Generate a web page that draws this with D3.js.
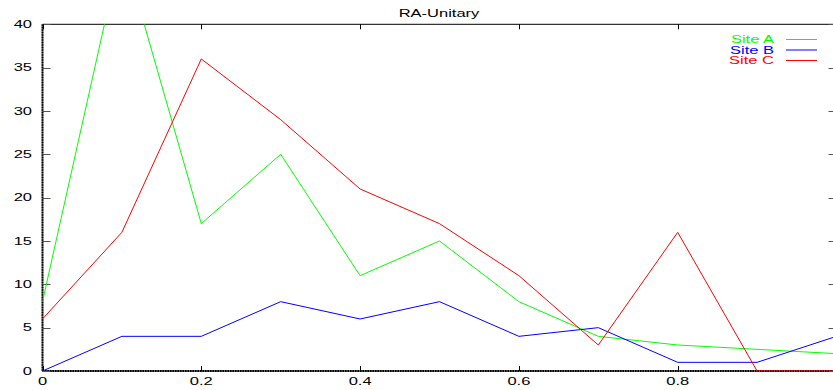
<!DOCTYPE html>
<html>
<head>
<meta charset="utf-8">
<script src="https://cdn.jsdelivr.net/npm/d3@7"></script>
<style>
  html, body { margin: 0; padding: 0; background: #fff; }
  svg { display: block; }
  text { font-family: "Liberation Sans", Arial, Helvetica, sans-serif; font-size: 10px; }
</style>
</head>
<body>
<svg id="chart" width="833" height="390"></svg>
<script>
// Histogram of RA-Unitary values per site
const title = "RA-Unitary";
const xValues = [0, 0.1, 0.2, 0.3, 0.4, 0.5, 0.6, 0.7, 0.8, 0.9, 1.0];
const siteNames = ["Site A", "Site B", "Site C"];
const siteColors = ["#00ff00", "#0000ff", "#ff0000"];
const siteA = [8, 49, 17, 25, 11, 15, 8, 4, 3, 2.5, 2];
const siteB = [0, 4, 4, 8, 6, 8, 4, 5, 1, 1, 4];
const siteC = [6, 16, 36, 29, 21, 17, 11, 3, 16, 0, 0];
const xTicks = [0, 0.2, 0.4, 0.6, 0.8];
const yTicks = [0, 5, 10, 15, 20, 25, 30, 35, 40];

const series = [siteA, siteB, siteC];
const stretch = 1.65; // horizontal widening of all lettering

const svg = d3.select("#chart");
const plotLeft = 42.5, plotTop = 24.3, plotRight = 836.5, plotBottom = 371;

const x = d3.scaleLinear().domain([0, 1]).range([plotLeft, plotRight]);
const y = d3.scaleLinear().domain([0, 40]).range([plotBottom, plotTop]);

svg.append("defs").append("clipPath").attr("id", "plotClip")
  .append("rect").attr("x", plotLeft).attr("y", plotTop)
  .attr("width", plotRight - plotLeft).attr("height", plotBottom - plotTop);

// stretched text helper
function label(g, tx, ty, str, anchor, color) {
  return g.append("text")
    .attr("transform", `translate(${tx},${ty}) scale(${stretch},1)`)
    .attr("text-anchor", anchor)
    .attr("fill", color || "#000")
    .text(str);
}

// frame
const frame = svg.append("g");
frame.append("line").attr("x1", plotLeft).attr("x2", plotRight).attr("y1", plotTop).attr("y2", plotTop)
  .attr("stroke", "#000").attr("stroke-width", 1);
[
  { x1: plotLeft, x2: plotLeft, y1: plotTop, y2: plotBottom },
  { x1: plotLeft, x2: plotRight, y1: plotBottom, y2: plotBottom }
].forEach(l => {
  frame.append("line").attr("x1", l.x1).attr("x2", l.x2).attr("y1", l.y1).attr("y2", l.y2)
    .attr("stroke", "#666").attr("stroke-width", 1.8);
  frame.append("line").attr("x1", l.x1).attr("x2", l.x2).attr("y1", l.y1).attr("y2", l.y2)
    .attr("stroke", "#000").attr("stroke-width", 1.8).attr("stroke-dasharray", "1.5,1");
});

// y ticks (left and mirrored right)
const yAxis = svg.append("g");
yTicks.forEach(t => {
  const yy = Math.round(y(t)) + 0.5;
  yAxis.append("line").attr("x1", plotLeft).attr("x2", plotLeft + 8).attr("y1", yy).attr("y2", yy)
    .attr("stroke", "#555");
  yAxis.append("line").attr("x1", plotRight - 8).attr("x2", plotRight).attr("y1", yy).attr("y2", yy)
    .attr("stroke", "#555");
  label(yAxis, 32, y(t) + 3.6, String(t), "end");
});

// x ticks (bottom and mirrored top)
const xAxis = svg.append("g");
xTicks.forEach(t => {
  const xx = Math.round(x(t)) + 0.5;
  xAxis.append("line").attr("x1", xx).attr("x2", xx).attr("y1", plotBottom).attr("y2", plotBottom - 5)
    .attr("stroke", "#000");
  xAxis.append("line").attr("x1", xx).attr("x2", xx).attr("y1", plotTop).attr("y2", plotTop + 5)
    .attr("stroke", "#000");
  label(xAxis, x(t), 385, d3.format("")(t), "middle");
});

// title
label(svg, 439, 17, title, "middle");

// series lines
const line = d3.line().x((d, i) => x(xValues[i])).y(d => y(d));
const plot = svg.append("g").attr("clip-path", "url(#plotClip)");
series.forEach((s, i) => {
  plot.append("path").datum(s)
    .attr("d", line)
    .attr("fill", "none")
    .attr("stroke", siteColors[i])
    .attr("stroke-width", 1);
});

// legend
const legend = svg.append("g");
siteNames.forEach((name, i) => {
  const ly = 39.5 + i * 10.5;
  label(legend, 774, ly + 3.6, name, "end", siteColors[i]);
  legend.append("line").attr("x1", 786).attr("x2", 817).attr("y1", ly).attr("y2", ly)
    .attr("stroke", siteColors[i]).attr("stroke-width", 1);
});
</script>
</body>
</html>
